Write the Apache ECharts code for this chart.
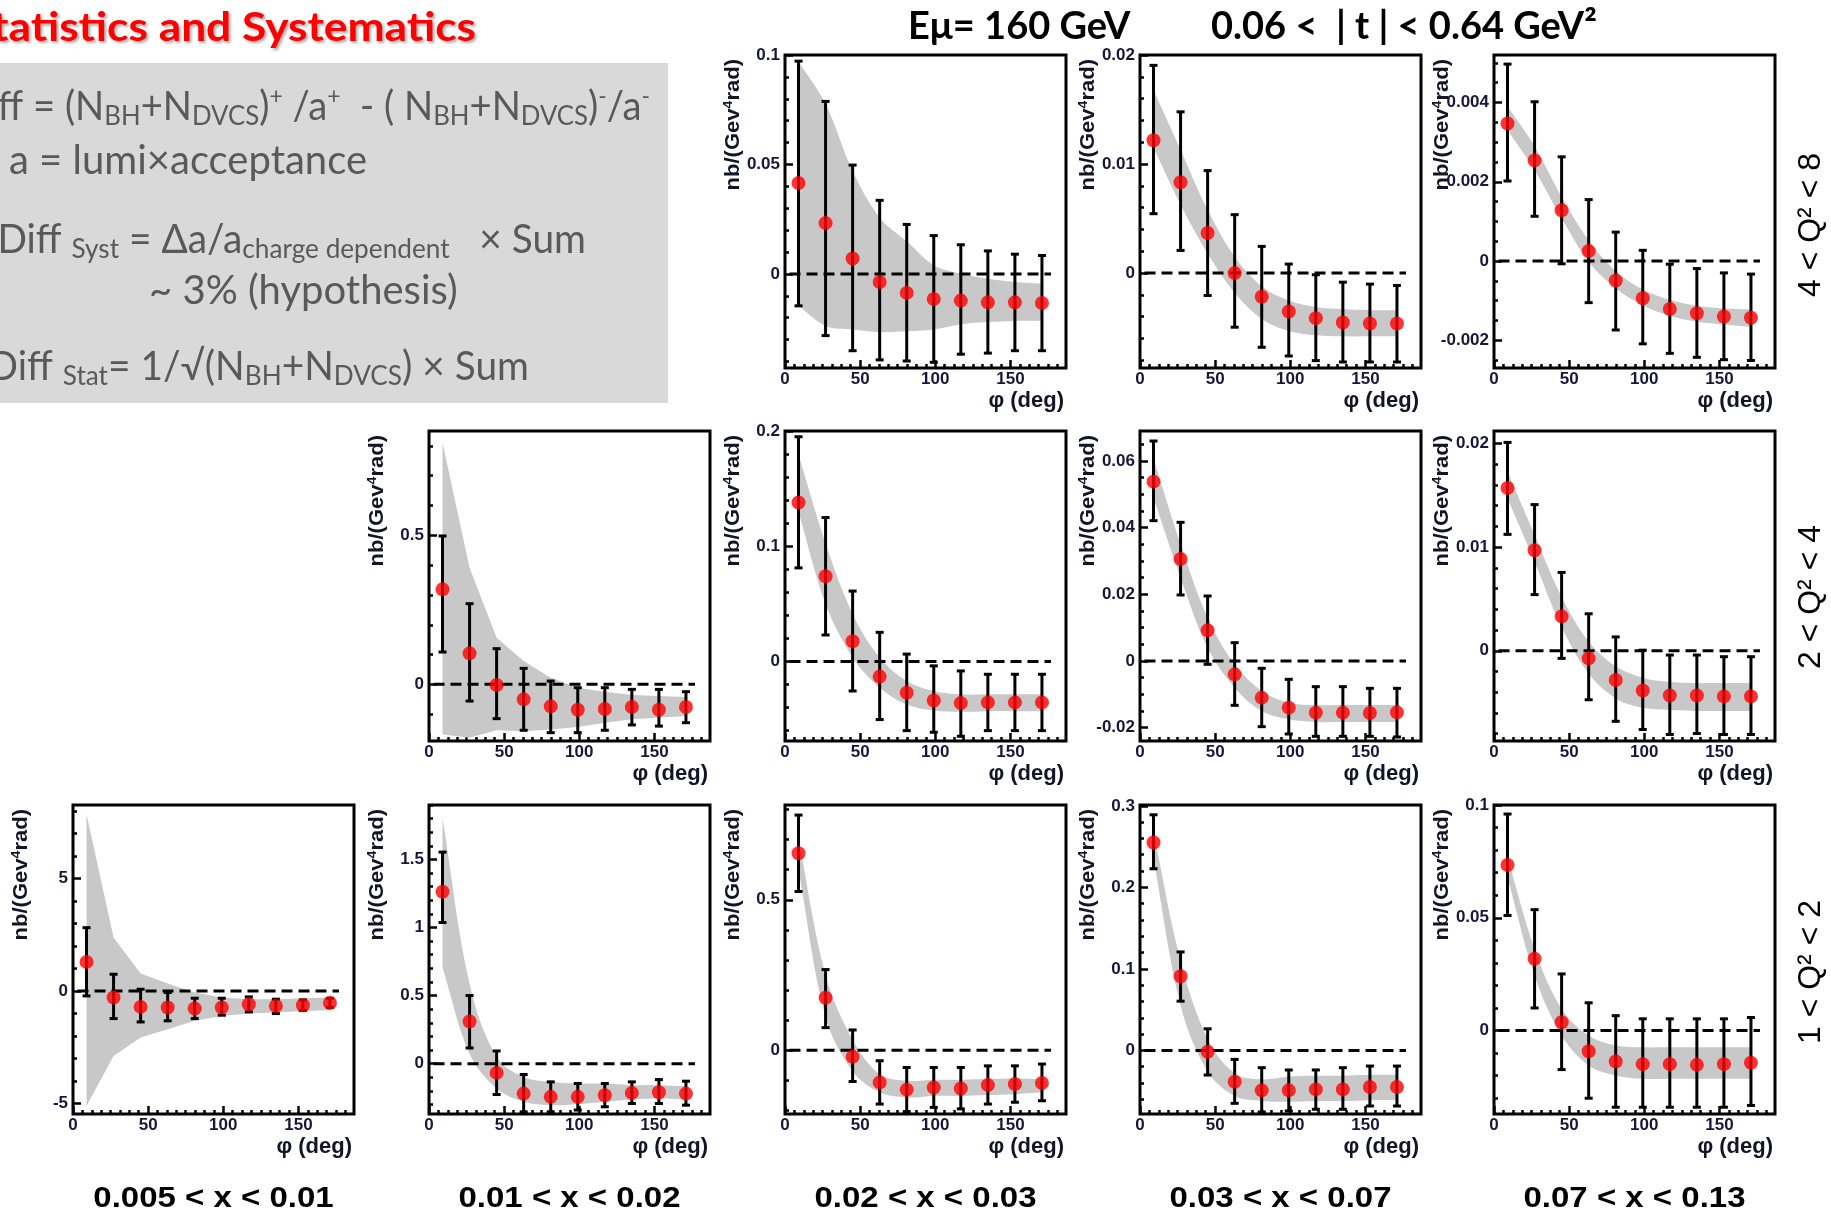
<!DOCTYPE html>
<html><head><meta charset="utf-8">
<script src="https://cdn.jsdelivr.net/npm/echarts@6/dist/echarts.min.js"></script>
<style>html,body{margin:0;padding:0;background:#fff}#c{width:1831px;height:1215px}</style>
</head><body><div id="c"></div>
<script>
// ---------------- data ----------------
const phi = [9, 27, 45, 63, 81, 99, 117, 135, 153, 171];
const phiRange = [0, 187];
const xTickValues = [0, 50, 100, 150];
const xMinorStep = 6.25;
const zeroLineX = [3, 177];

const colLabels = ['0.005 < x < 0.01', '0.01 < x < 0.02', '0.02 < x < 0.03', '0.03 < x < 0.07', '0.07 < x < 0.13'];
const rowLabels = ['4 < Q\u00b2 < 8', '2 < Q\u00b2 < 4', '1 < Q\u00b2 < 2'];

// 4<Q2<8, 0.02<x<0.03
const p13_val    = [0.0415, 0.0232, 0.0070, -0.0037, -0.0087, -0.0115, -0.0122, -0.0130, -0.0130, -0.0133];
const p13_errHi  = [0.0972, 0.0788, 0.0497, 0.0336, 0.0226, 0.0175, 0.0133, 0.0105, 0.0090, 0.0084];
const p13_errLo  = [-0.0146, -0.0282, -0.0351, -0.0393, -0.0398, -0.0404, -0.0367, -0.0362, -0.0351, -0.0351];
const p13_bandHi = [0.0970, 0.0776, 0.0470, 0.0257, 0.0149, 0.0040, 0.0002, -0.0022, -0.0037, -0.0045];
const p13_bandLo = [-0.0146, -0.0238, -0.0254, -0.0266, -0.0262, -0.0254, -0.0230, -0.0220, -0.0215, -0.0215];
const p13_yTicks = [0, 0.05, 0.1];
const p13_yRange = [-0.043, 0.1];

// 4<Q2<8, 0.03<x<0.07
const p14_val    = [0.01219, 0.00833, 0.00368, 0.0, -0.00217, -0.00352, -0.00413, -0.00453, -0.00462, -0.00462];
const p14_errHi  = [0.01905, 0.01479, 0.0094, 0.00536, 0.00245, 0.00083, -0.00015, -0.00083, -0.00101, -0.00113];
const p14_errLo  = [0.00545, 0.00208, -0.00205, -0.00496, -0.0068, -0.0076, -0.00802, -0.00815, -0.00815, -0.00815];
const p14_bandHi = [0.0168, 0.0113, 0.0058, 0.0015, -0.0012, -0.0025, -0.0031, -0.0033, -0.0034, -0.0034];
const p14_bandLo = [0.0115, 0.0063, 0.0018, -0.0018, -0.0042, -0.0053, -0.0057, -0.0058, -0.0058, -0.0058];
const p14_yTicks = [0, 0.01, 0.02];
const p14_yRange = [-0.0087, 0.02];

// 4<Q2<8, 0.07<x<0.13
const p15_val    = [0.00347, 0.00254, 0.00128, 0.00025, -0.00049, -0.00094, -0.00121, -0.00132, -0.0014, -0.00143];
const p15_errHi  = [0.00497, 0.00402, 0.00263, 0.00155, 0.00073, 0.00027, -0.00008, -0.00019, -0.0003, -0.00033];
const p15_errLo  = [0.00202, 0.00113, -0.00007, -0.00105, -0.00174, -0.00209, -0.00233, -0.00243, -0.00249, -0.00251];
const p15_bandHi = [0.0039, 0.0029, 0.00162, 0.00052, -0.00025, -0.00072, -0.00098, -0.00113, -0.0012, -0.00122];
const p15_bandLo = [0.0033, 0.0023, 0.00108, -0.00002, -0.00069, -0.00112, -0.00138, -0.00153, -0.0016, -0.00166];
const p15_yTicks = [-0.002, 0, 0.002, 0.004];
const p15_yRange = [-0.0027, 0.0052];

// 2<Q2<4, 0.01<x<0.02
const p22_val    = [0.3188, 0.104, -0.0022, -0.0503, -0.0738, -0.085, -0.0828, -0.076, -0.085, -0.076];
const p22_errHi  = [0.4978, 0.2707, 0.1197, 0.0537, 0.0112, -0.0112, -0.0112, -0.0168, -0.0168, -0.0246];
const p22_errLo  = [0.1085, -0.056, -0.115, -0.154, -0.162, -0.162, -0.154, -0.136, -0.14, -0.1286];
const p22_bandHi = [0.811, 0.3915, 0.1566, 0.0783, 0.0224, -0.0112, -0.0246, -0.0358, -0.039, -0.0425];
const p22_bandLo = [-0.168, -0.179, -0.154, -0.157, -0.151, -0.143, -0.129, -0.117, -0.112, -0.106];
const p22_yTicks = [0, 0.5];
const p22_yRange = [-0.19, 0.85];

// 2<Q2<4, 0.02<x<0.03
const p23_val    = [0.138, 0.0739, 0.0175, -0.0131, -0.0271, -0.0338, -0.0361, -0.0355, -0.0355, -0.0355];
const p23_errHi  = [0.195, 0.1249, 0.0611, 0.0253, 0.0064, -0.0038, -0.0082, -0.0111, -0.0111, -0.0111];
const p23_errLo  = [0.0812, 0.023, -0.0256, -0.0504, -0.06, -0.0614, -0.0649, -0.06, -0.06, -0.06];
const p23_bandHi = [0.1796, 0.1025, 0.0413, 0.0035, -0.0169, -0.0256, -0.0285, -0.0285, -0.0285, -0.0285];
const p23_bandLo = [0.13, 0.05, 0.0035, -0.0227, -0.0373, -0.0425, -0.0437, -0.0431, -0.0431, -0.0431];
const p23_yTicks = [0, 0.1, 0.2];
const p23_yRange = [-0.069, 0.2];

// 2<Q2<4, 0.03<x<0.07
const p24_val    = [0.0538, 0.0306, 0.0092, -0.004, -0.011, -0.014, -0.0155, -0.0155, -0.0156, -0.0154];
const p24_errHi  = [0.066, 0.0416, 0.0195, 0.0055, -0.0022, -0.0055, -0.0077, -0.0077, -0.0082, -0.0082];
const p24_errLo  = [0.0421, 0.0198, -0.001, -0.0133, -0.0197, -0.0219, -0.0226, -0.0226, -0.0226, -0.0228];
const p24_bandHi = [0.0607, 0.0351, 0.013, -0.001, -0.009, -0.0125, -0.0132, -0.0132, -0.0132, -0.0132];
const p24_bandLo = [0.049, 0.025, 0.004, -0.008, -0.015, -0.0175, -0.0183, -0.0183, -0.0183, -0.0183];
const p24_yTicks = [-0.02, 0, 0.02, 0.04, 0.06];
const p24_yRange = [-0.024, 0.069];

// 2<Q2<4, 0.07<x<0.13
const p25_val    = [0.0157, 0.0097, 0.00332, -0.00073, -0.00281, -0.00383, -0.00431, -0.00431, -0.0044, -0.0044];
const p25_errHi  = [0.0201, 0.0141, 0.00756, 0.00357, 0.00134, 0.00006, -0.00041, -0.00041, -0.00057, -0.00057];
const p25_errLo  = [0.01123, 0.00542, -0.00073, -0.00472, -0.0068, -0.00759, -0.00807, -0.00798, -0.00807, -0.00807];
const p25_bandHi = [0.0173, 0.0112, 0.0052, 0.0009, -0.0015, -0.0026, -0.003, -0.0031, -0.0031, -0.0031];
const p25_bandLo = [0.0147, 0.0086, 0.0023, -0.0022, -0.0046, -0.0055, -0.0057, -0.0058, -0.0058, -0.0058];
const p25_yTicks = [0, 0.01, 0.02];
const p25_yRange = [-0.0087, 0.0212];

// 1<Q2<2, 0.005<x<0.01
const p31_val    = [1.289, -0.296, -0.711, -0.74, -0.785, -0.74, -0.593, -0.667, -0.637, -0.533];
const p31_errHi  = [2.81, 0.74, 0.074, -0.074, -0.326, -0.326, -0.267, -0.37, -0.40, -0.33];
const p31_errLo  = [-0.222, -1.23, -1.38, -1.33, -1.23, -1.08, -0.933, -1.007, -0.87, -0.74];
const p31_bandHi = [7.85, 2.37, 0.77, 0.326, -0.074, -0.296, -0.37, -0.37, -0.33, -0.296];
const p31_bandLo = [-5.11, -2.89, -2.07, -1.70, -1.33, -1.11, -1.0, -0.96, -0.89, -0.86];
const p31_yTicks = [-5, 0, 5];
const p31_yRange = [-5.47, 8.26];

// 1<Q2<2, 0.01<x<0.02
const p32_val    = [1.263, 0.31, -0.068, -0.22, -0.244, -0.244, -0.232, -0.215, -0.21, -0.22];
const p32_errHi  = [1.554, 0.5, 0.093, -0.08, -0.134, -0.146, -0.146, -0.134, -0.117, -0.129];
const p32_errLo  = [1.037, 0.115, -0.227, -0.354, -0.354, -0.341, -0.317, -0.293, -0.293, -0.305];
const p32_bandHi = [1.805, 0.585, 0.049, -0.098, -0.134, -0.146, -0.146, -0.158, -0.158, -0.166];
const p32_bandLo = [0.707, 0.073, -0.183, -0.28, -0.305, -0.298, -0.28, -0.263, -0.256, -0.263];
const p32_yTicks = [0, 0.5, 1, 1.5];
const p32_yRange = [-0.37, 1.9];

// 1<Q2<2, 0.02<x<0.03
const p33_val    = [0.6545, 0.1744, -0.022, -0.107, -0.131, -0.124, -0.127, -0.116, -0.1126, -0.109];
const p33_errHi  = [0.7815, 0.268, 0.0673, -0.035, -0.0574, -0.0574, -0.0574, -0.052, -0.052, -0.046];
const p33_errLo  = [0.5276, 0.075, -0.104, -0.179, -0.204, -0.19, -0.195, -0.179, -0.173, -0.168];
const p33_bandHi = [0.70, 0.25, 0.035, -0.08, -0.1016, -0.098, -0.098, -0.096, -0.094, -0.096];
const p33_bandLo = [0.60, 0.11, -0.07, -0.14, -0.157, -0.152, -0.152, -0.149, -0.146, -0.14];
const p33_yTicks = [0, 0.5];
const p33_yRange = [-0.212, 0.815];

// 1<Q2<2, 0.03<x<0.07
const p34_val    = [0.255, 0.091, -0.0016, -0.0384, -0.049, -0.049, -0.0478, -0.0478, -0.0449, -0.0449];
const p34_errHi  = [0.289, 0.1208, 0.0265, -0.011, -0.0212, -0.024, -0.024, -0.0212, -0.0192, -0.0192];
const p34_errLo  = [0.2228, 0.0604, -0.0302, -0.0649, -0.0755, -0.0743, -0.0722, -0.0722, -0.0682, -0.0682];
const p34_bandHi = [0.268, 0.11, 0.014, -0.028, -0.0355, -0.032, -0.031, -0.031, -0.030, -0.030];
const p34_bandLo = [0.235, 0.055, -0.026, -0.056, -0.062, -0.063, -0.062, -0.062, -0.061, -0.061];
const p34_yTicks = [0, 0.1, 0.2, 0.3];
const p34_yRange = [-0.078, 0.301];

// 1<Q2<2, 0.07<x<0.13
const p35_val    = [0.0734, 0.0318, 0.0037, -0.0092, -0.0137, -0.0149, -0.0149, -0.0152, -0.0149, -0.0143];
const p35_errHi  = [0.096, 0.0536, 0.0251, 0.0123, 0.0066, 0.0052, 0.0052, 0.0052, 0.0052, 0.0058];
const p35_errLo  = [0.051, 0.01, -0.0173, -0.03, -0.034, -0.034, -0.034, -0.034, -0.034, -0.0332];
const p35_bandHi = [0.0768, 0.0362, 0.0096, -0.0022, -0.0066, -0.0074, -0.0074, -0.0074, -0.0074, -0.0074];
const p35_bandLo = [0.068, 0.0244, -0.0022, -0.0155, -0.0199, -0.0214, -0.0214, -0.0214, -0.0214, -0.0214];
const p35_yTicks = [0, 0.05, 0.1];
const p35_yRange = [-0.037, 0.1];

// ---------------- layout ----------------
const colLeft = [73, 429, 785, 1140, 1494];
const panelW = 281;
const rowTop = [55, 431, 805];
const rowH = [313, 310, 309];

const panels = [
  {r:0,c:2,val:p13_val,hi:p13_errHi,lo:p13_errLo,bHi:p13_bandHi,bLo:p13_bandLo,ticks:p13_yTicks,range:p13_yRange,minor:0.01,smooth:true},
  {r:0,c:3,val:p14_val,hi:p14_errHi,lo:p14_errLo,bHi:p14_bandHi,bLo:p14_bandLo,ticks:p14_yTicks,range:p14_yRange,minor:0.002,smooth:true},
  {r:0,c:4,val:p15_val,hi:p15_errHi,lo:p15_errLo,bHi:p15_bandHi,bLo:p15_bandLo,ticks:p15_yTicks,range:p15_yRange,minor:0.0005,smooth:true},
  {r:1,c:1,val:p22_val,hi:p22_errHi,lo:p22_errLo,bHi:p22_bandHi,bLo:p22_bandLo,ticks:p22_yTicks,range:p22_yRange,minor:0.1,smooth:false},
  {r:1,c:2,val:p23_val,hi:p23_errHi,lo:p23_errLo,bHi:p23_bandHi,bLo:p23_bandLo,ticks:p23_yTicks,range:p23_yRange,minor:0.02,smooth:true},
  {r:1,c:3,val:p24_val,hi:p24_errHi,lo:p24_errLo,bHi:p24_bandHi,bLo:p24_bandLo,ticks:p24_yTicks,range:p24_yRange,minor:0.005,smooth:true},
  {r:1,c:4,val:p25_val,hi:p25_errHi,lo:p25_errLo,bHi:p25_bandHi,bLo:p25_bandLo,ticks:p25_yTicks,range:p25_yRange,minor:0.002,smooth:true},
  {r:2,c:0,val:p31_val,hi:p31_errHi,lo:p31_errLo,bHi:p31_bandHi,bLo:p31_bandLo,ticks:p31_yTicks,range:p31_yRange,minor:1,smooth:false},
  {r:2,c:1,val:p32_val,hi:p32_errHi,lo:p32_errLo,bHi:p32_bandHi,bLo:p32_bandLo,ticks:p32_yTicks,range:p32_yRange,minor:0.1,smooth:true},
  {r:2,c:2,val:p33_val,hi:p33_errHi,lo:p33_errLo,bHi:p33_bandHi,bLo:p33_bandLo,ticks:p33_yTicks,range:p33_yRange,minor:0.1,smooth:true},
  {r:2,c:3,val:p34_val,hi:p34_errHi,lo:p34_errLo,bHi:p34_bandHi,bLo:p34_bandLo,ticks:p34_yTicks,range:p34_yRange,minor:0.02,smooth:true},
  {r:2,c:4,val:p35_val,hi:p35_errHi,lo:p35_errLo,bHi:p35_bandHi,bLo:p35_bandLo,ticks:p35_yTicks,range:p35_yRange,minor:0.01,smooth:true}
];

const LABEL_FONT = '"Liberation Sans", Arial, sans-serif';
const labelColor = '#17173a';
const bandColor = '#c8c8c8';

function stepValues(min, max, step) {
  const out = [];
  let k = Math.ceil(min / step - 1e-9);
  for (;; k++) {
    const v = +(k * step).toPrecision(10);
    if (v > max + 1e-12) break;
    out.push(v);
  }
  return out;
}
function fmt(v) { return String(parseFloat((+v).toPrecision(6))); }

const option = {
  animation: false,
  backgroundColor: '#ffffff',
  grid: [], xAxis: [], yAxis: [], series: [], graphic: []
};

// background box & texts
const G = option.graphic;
G.push({type:'rect', z:0, shape:{x:0, y:63, width:668, height:340}, style:{fill:'#d9d9d9'}});
G.push({type:'text', z:10, x:476, y:28, scaleX:1.08, style:{text:'Statistics and Systematics', font:'bold 41px Lato', fill:'#ff0000', align:'right', verticalAlign:'middle', textShadowColor:'rgba(0,0,0,0.35)', textShadowBlur:3, textShadowOffsetX:2, textShadowOffsetY:2}});

const boxRich = {
  m: {fontSize:40, fontFamily:'Lato', fill:'#595959', lineHeight:46},
  b: {fontSize:27, fontFamily:'Lato', fill:'#595959', lineHeight:30, verticalAlign:'bottom'},
  p: {fontSize:24, fontFamily:'Lato', fill:'#595959', lineHeight:26, verticalAlign:'top'}
};
function boxText(x, y, align, sx, text) {
  G.push({type:'text', z:10, x:x, y:y, scaleX:sx, style:{text:text, rich:boxRich, align:align, verticalAlign:'middle'}});
}
boxText(650, 107, 'right', 0.955, '{m|Diff = (N}{b|BH}{m|+N}{b|DVCS}{m|)}{p|+}{m| /a}{p|+}{m|  - ( N}{b|BH}{m|+N}{b|DVCS}{m|)}{p|-}{m|/a}{p|-}');
boxText(9, 161, 'left', 1, '{m|a = lumi\u00d7acceptance}');
boxText(586, 240, 'right', 0.97, '{m|Diff }{b|Syst}{m| = \u0394a/a}{b|charge dependent}{m|   \u00d7 Sum}');
boxText(149, 291, 'left', 1, '{m|~ 3% (hypothesis)}');
boxText(529, 367, 'right', 0.97, '{m|Diff }{b|Stat}{m|= 1/\u221a(N}{b|BH}{m|+N}{b|DVCS}{m|) \u00d7 Sum}');

G.push({type:'text', z:10, x:908, y:27, style:{text:'E\u03bc= 160 GeV', font:'bold 38px Lato', fill:'#000', align:'left', verticalAlign:'middle'}});
G.push({type:'text', z:10, x:1211, y:27, style:{text:'0.06 <  | t | < 0.64 GeV\u00b2', font:'bold 38px Lato', fill:'#000', align:'left', verticalAlign:'middle'}});

// row labels
const rowLabelY = [225, 597, 972];
rowLabels.forEach((t, i) => {
  G.push({type:'text', z:10, x:1811, y:rowLabelY[i], rotation:Math.PI/2,
    style:{text:t, font:'32px ' + LABEL_FONT, fill:'#000', align:'center', verticalAlign:'middle'}});
});
// column labels
colLabels.forEach((t, i) => {
  G.push({type:'text', z:10, x:colLeft[i] + panelW/2, y:1199, scaleX:1.1,
    style:{text:t, font:'bold 30px ' + LABEL_FONT, fill:'#000', align:'center', verticalAlign:'middle'}});
});

const xMinorValues = stepValues(phiRange[0], phiRange[1], xMinorStep);

panels.forEach((p, gi) => {
  const left = colLeft[p.c], top = rowTop[p.r], h = rowH[p.r];
  option.grid.push({left:left, top:top, width:panelW, height:h, show:true, borderColor:'#000', borderWidth:3,
    backgroundColor:'rgba(0,0,0,0)', outerBoundsMode:'none', containLabel:false});
  const labelStyle = {fontSize:17, fontWeight:'bold', fontFamily:LABEL_FONT, color:labelColor};
  option.xAxis.push({gridIndex:gi, type:'value', min:phiRange[0], max:phiRange[1], position:'bottom',
    axisLine:{show:false, onZero:false}, splitLine:{show:false},
    axisTick:{show:true, inside:true, length:8, customValues:xTickValues, lineStyle:{color:'#000', width:2.5}},
    axisLabel:Object.assign({show:true, customValues:xTickValues, margin:3, formatter:fmt}, labelStyle)});
  option.xAxis.push({gridIndex:gi, type:'value', min:phiRange[0], max:phiRange[1], position:'bottom',
    axisLine:{show:false, onZero:false}, splitLine:{show:false},
    axisTick:{show:true, inside:true, length:4, customValues:xMinorValues, lineStyle:{color:'#000', width:2.5}},
    axisLabel:{show:false}});
  option.yAxis.push({gridIndex:gi, type:'value', min:p.range[0], max:p.range[1], position:'left',
    axisLine:{show:false, onZero:false}, splitLine:{show:false},
    axisTick:{show:true, inside:true, length:8, customValues:p.ticks, lineStyle:{color:'#000', width:2.5}},
    axisLabel:Object.assign({show:true, customValues:p.ticks, margin:5, formatter:fmt}, labelStyle)});
  option.yAxis.push({gridIndex:gi, type:'value', min:p.range[0], max:p.range[1], position:'left',
    axisLine:{show:false, onZero:false}, splitLine:{show:false},
    axisTick:{show:true, inside:true, length:4, customValues:stepValues(p.range[0], p.range[1], p.minor), lineStyle:{color:'#000', width:2.5}},
    axisLabel:{show:false}});
  const xi = gi * 2, yi = gi * 2;
  // systematic band as one polygon through the axis scales
  option.series.push({type:'custom', xAxisIndex:xi, yAxisIndex:yi,
    data:phi.map((x, i) => [x, p.bLo[i], p.bHi[i]]),
    encode:{x:0, y:[1, 2]}, silent:true, z:1,
    renderItem:function (params, api) {
      if (params.dataIndex !== 0) return null;
      const up = phi.map((x, i) => api.coord([x, p.bHi[i]]));
      const dn = phi.map((x, i) => api.coord([x, p.bLo[i]])).reverse();
      let pts;
      if (p.smooth) {
        pts = [up[0]].concat(up).concat([up[up.length - 1]]).concat([dn[0]]).concat(dn).concat([dn[dn.length - 1]]);
      } else {
        pts = up.concat(dn);
      }
      return {type:'polygon', shape:{points:pts, smooth:p.smooth ? 0.35 : 0}, style:{fill:bandColor}};
    }});
  // zero reference line
  option.series.push({type:'line', xAxisIndex:xi, yAxisIndex:yi, data:zeroLineX.map(x => [x, 0]),
    symbol:'none', showSymbol:false, lineStyle:{color:'#000', width:3, type:[11, 6]}, silent:true, z:2});
  // error bars
  option.series.push({type:'custom', xAxisIndex:xi, yAxisIndex:yi,
    data:phi.map((x, i) => [x, p.lo[i], p.hi[i]]),
    encode:{x:0, y:[1, 2]}, silent:true, z:3,
    renderItem:function (params, api) {
      const x = api.value(0);
      const a = api.coord([x, api.value(1)]);
      const b = api.coord([x, api.value(2)]);
      const cap = 4;
      const st = {stroke:'#000', lineWidth:3};
      return {type:'group', children:[
        {type:'line', shape:{x1:a[0], y1:a[1], x2:b[0], y2:b[1]}, style:st},
        {type:'line', shape:{x1:a[0] - cap, y1:a[1], x2:a[0] + cap, y2:a[1]}, style:st},
        {type:'line', shape:{x1:b[0] - cap, y1:b[1], x2:b[0] + cap, y2:b[1]}, style:st}
      ]};
    }});
  // points
  option.series.push({type:'scatter', xAxisIndex:xi, yAxisIndex:yi, data:phi.map((x, i) => [x, p.val[i]]),
    symbol:'circle', symbolSize:14, itemStyle:{color:'#ff0000'}, silent:true, z:4});

  // axis titles
  G.push({type:'text', z:10, x:left - 52, y:top + 4, rotation:Math.PI/2, scaleX:1.1,
    style:{text:'{a|nb/(Gev}{s|4}{a|rad)}', align:'right', verticalAlign:'middle',
      rich:{a:{font:'bold 20px ' + LABEL_FONT, fill:'#141428', lineHeight:22},
            s:{font:'bold 13px ' + LABEL_FONT, fill:'#141428', lineHeight:14, verticalAlign:'top'}}}});
  G.push({type:'text', z:10, x:left + panelW - 2, y:top + h + 33,
    style:{text:'\u03c6 (deg)', font:'bold 22px ' + LABEL_FONT, fill:'#141428', align:'right', verticalAlign:'middle'}});
});

const chart = echarts.init(document.getElementById('c'), null, {renderer:'canvas', width:1831, height:1215});
chart.setOption(option);
</script>
</body></html>
